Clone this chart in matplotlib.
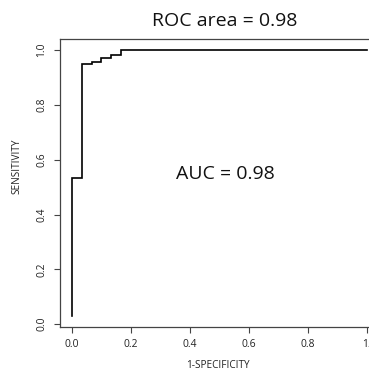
import matplotlib
matplotlib.use("Agg")
import matplotlib.pyplot as plt

# ROC step curve (1-specificity, sensitivity)
fpr = [0.0, 0.0, 0.033, 0.033, 0.067, 0.067, 0.100, 0.100, 0.133, 0.133, 0.167, 0.167, 1.0]
tpr = [0.03, 0.533, 0.533, 0.950, 0.950, 0.958, 0.958, 0.970, 0.970, 0.983, 0.983, 1.0, 1.0]
x_ticks = [0.0, 0.2, 0.4, 0.6, 0.8, 1.0]
x_tick_labels = ["0.0", "0.2", "0.4", "0.6", "0.8", "1."]
y_ticks = [0.0, 0.2, 0.4, 0.6, 0.8, 1.0]
y_tick_labels = ["0.0", "0.2", "0.4", "0.6", "0.8", "1.0"]
title = "ROC area = 0.98"
auc_text = "AUC = 0.98"

plt.rcParams['font.family'] = ['Open Sans', 'DejaVu Sans']
W, H = 369, 371
fig = plt.figure(figsize=(W / 100, H / 100), dpi=100)
L, R, T, B = 60, 378.5, 39.5, 326.5
ax = fig.add_axes([L / W, 1 - B / H, (R - L) / W, (B - T) / H])
ax.plot(fpr, tpr, color="black", lw=1.2, solid_joinstyle="miter")
ax.set_xlim(-0.04, 1.04)
ax.set_ylim(-0.0088, 1.0388)
ax.set_xticks(x_ticks)
ax.set_xticklabels(x_tick_labels, fontsize=7.4, color="#222222")
ax.set_yticks(y_ticks)
ax.set_yticklabels(y_tick_labels, fontsize=7.4, color="#222222", rotation=90, va="center")
ax.tick_params(length=4, width=0.8, color="#444444", pad=5)
for s in ax.spines.values():
    s.set_color("#444444")
    s.set_linewidth(0.9)
ax.text(0.52, 0.547, auc_text, fontsize=14, ha="center", va="center", color="#111111")
fig.text(225 / W, 1 - 21 / H, title, fontsize=14, ha="center", va="center", color="#111111")
fig.text(218 / W, 1 - 366 / H, "1-SPECIFICITY", fontsize=7.2, ha="center", va="center", color="#222222")
fig.text(17 / W, 1 - 166 / H, "SENSITIVITY", fontsize=7.2, ha="center", va="center", rotation=90, color="#222222")
fig.savefig("out.png", dpi=100)
